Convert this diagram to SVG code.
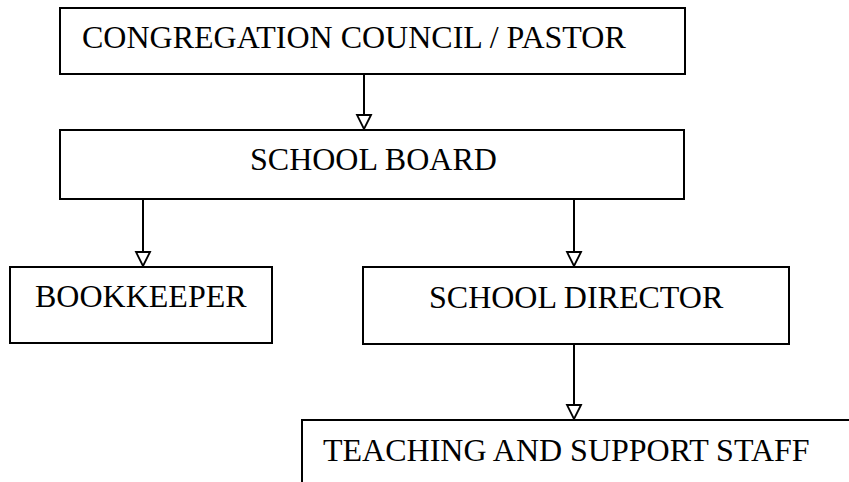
<svg xmlns="http://www.w3.org/2000/svg" width="849" height="482" viewBox="0 0 849 482">
<style>
.box{fill:#fff;stroke:#000;stroke-width:2}
.lbl{font-family:"Liberation Serif","Times New Roman",serif;font-size:32px;fill:#000}
.conn{stroke:#000;stroke-width:2;fill:none;marker-end:url(#tri)}
</style>
<defs>
<marker id="tri" markerUnits="userSpaceOnUse" markerWidth="18" markerHeight="18" viewBox="-2 -2 18 18" refX="14" refY="7" orient="auto">
<path d="M0,0 L14,7 L0,14 Z" fill="#fff" stroke="#000" stroke-width="1.8"/>
</marker>
</defs>
<rect width="849" height="482" fill="#fff"/>
<g id="council"><rect class="box" x="60" y="8" width="625" height="66"/><text class="lbl" x="82" y="48">CONGREGATION COUNCIL / PASTOR</text></g>
<g id="board"><rect class="box" x="60" y="130" width="624" height="69"/><text class="lbl" x="250" y="170">SCHOOL BOARD</text></g>
<g id="bookkeeper"><rect class="box" x="10" y="267" width="262" height="76"/><text class="lbl" x="35" y="307">BOOKKEEPER</text></g>
<g id="director"><rect class="box" x="363" y="267" width="426" height="77"/><text class="lbl" x="429" y="308">SCHOOL DIRECTOR</text></g>
<g id="staff"><rect class="box" x="302" y="420" width="580" height="100"/><text class="lbl" x="323" y="461">TEACHING AND SUPPORT STAFF</text></g>
<g id="connectors">
<line class="conn" x1="364" y1="74" x2="364" y2="129"/>
<line class="conn" x1="143" y1="199" x2="143" y2="266"/>
<line class="conn" x1="574" y1="199" x2="574" y2="266"/>
<line class="conn" x1="574" y1="344" x2="574" y2="419"/>
</g>
</svg>
